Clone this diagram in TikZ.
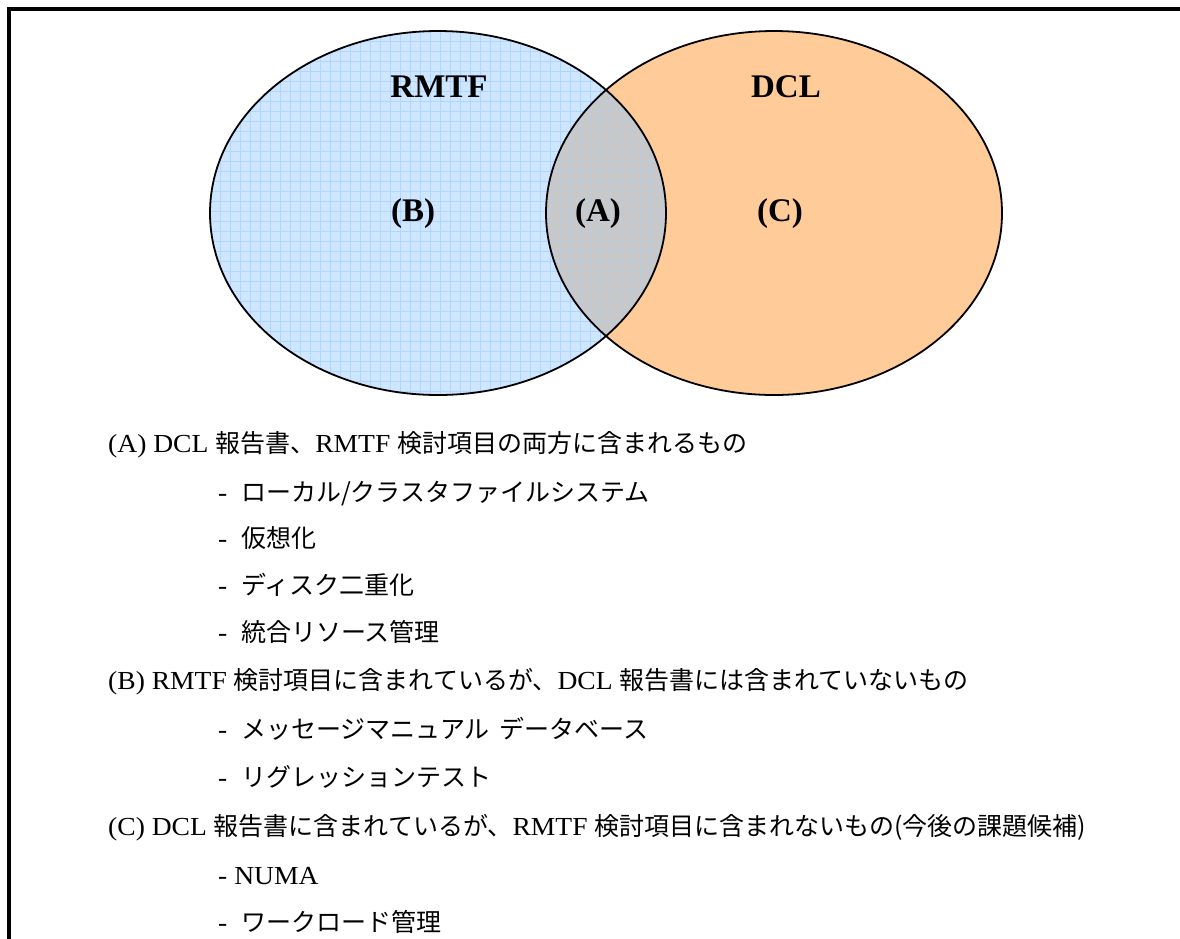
\documentclass[tikz,border=0pt]{standalone}
\usepackage{fontspec}
\setmainfont{Liberation Serif}[Scale=1.04,FakeStretch=1.06]
\newfontfamily\lblfont{Liberation Serif}
\newfontfamily\jp{Noto Sans CJK JP}
\definecolor{bluefill}{RGB}{206,230,255}
\definecolor{bluegrid}{RGB}{176,214,255}
\definecolor{orangefill}{RGB}{255,204,153}
\definecolor{lensfill}{RGB}{200,200,200}
\definecolor{lensgrid}{RGB}{188,204,222}
\begin{document}
\begin{tikzpicture}[x=1pt,y=-1pt,
  lbl/.style={font=\lblfont\fontsize{33}{36}\selectfont\bfseries, inner sep=0pt},
  body/.style={font=\fontsize{25}{28}\selectfont, inner sep=0pt, anchor=base west},
  outline/.style={draw=black, line width=1.8pt}]
\useasboundingbox (0,0) rectangle (1180,938);
\fill[white] (0,0) rectangle (1180,938);
% frame (cut at right and bottom)
\draw[line width=4pt] (9,950) -- (9,9) -- (1190,9);
% ellipses
\def\blueE{(438,213) ellipse [x radius=228, y radius=182]}
\def\orangeE{(774,213) ellipse [x radius=228, y radius=182]}
\fill[orangefill] \orangeE;
\fill[bluefill] \blueE;
\begin{scope}
  \clip \blueE;
  \foreach \i in {0,...,46} {\draw[bluegrid, line width=0.9pt] (210+10*\i,20) -- (210+10*\i,410);}
  \foreach \j in {0,...,39} {\draw[bluegrid, line width=0.9pt] (200,31+10*\j) -- (680,31+10*\j);}
\end{scope}
\begin{scope}
  \clip \blueE;
  \clip \orangeE;
  \fill[lensfill] (500,0) rectangle (700,420);
  \foreach \i in {0,...,46} {\draw[lensgrid, line width=0.9pt] (210+10*\i,20) -- (210+10*\i,410);}
  \foreach \j in {0,...,39} {\draw[lensgrid, line width=0.9pt] (200,31+10*\j) -- (680,31+10*\j);}
\end{scope}
\draw[outline] \blueE;
\draw[outline] \orangeE;
% labels
\node[lbl] (rmtf) at (439,87) {RMTF};
\node[lbl] (dcl) at (786,87) {DCL};
\node[lbl] (b) at (413,214) {(B)};
\node[lbl] (a) at (598,214) {(A)};
\node[lbl] (c) at (780,214) {(C)};
% text
\node[body] (ta) at (108,452) {(A) DCL {\jp 報告書、}RMTF {\jp 検討項目の両方に含まれるもの}};
\node[body] (ta1) at (218,501) {-\ \ {\jp ローカル/クラスタファイルシステム}};
\node[body] (ta2) at (218,547) {-\ \ {\jp 仮想化}};
\node[body] (ta3) at (218,594) {-\ \ {\jp ディスク二重化}};
\node[body] (ta4) at (218,641) {-\ \ {\jp 統合リソース管理}};
\node[body] (tb) at (108,689) {(B) RMTF {\jp 検討項目に含まれているが、}DCL {\jp 報告書には含まれていないもの}};
\node[body] (tb1) at (218,738) {-\ \ {\jp メッセージマニュアル\hspace{0.4em}データベース}};
\node[body] (tb2) at (218,786) {-\ \ {\jp リグレッションテスト}};
\node[body] (tc) at (108,835) {(C) DCL {\jp 報告書に含まれているが、}RMTF {\jp 検討項目に含まれないもの(今後の課題候補)}};
\node[body] (tc1) at (218,884) {- NUMA};
\node[body] (tc2) at (218,931) {-\ \ {\jp ワークロード管理}};
\end{tikzpicture}
\end{document}
